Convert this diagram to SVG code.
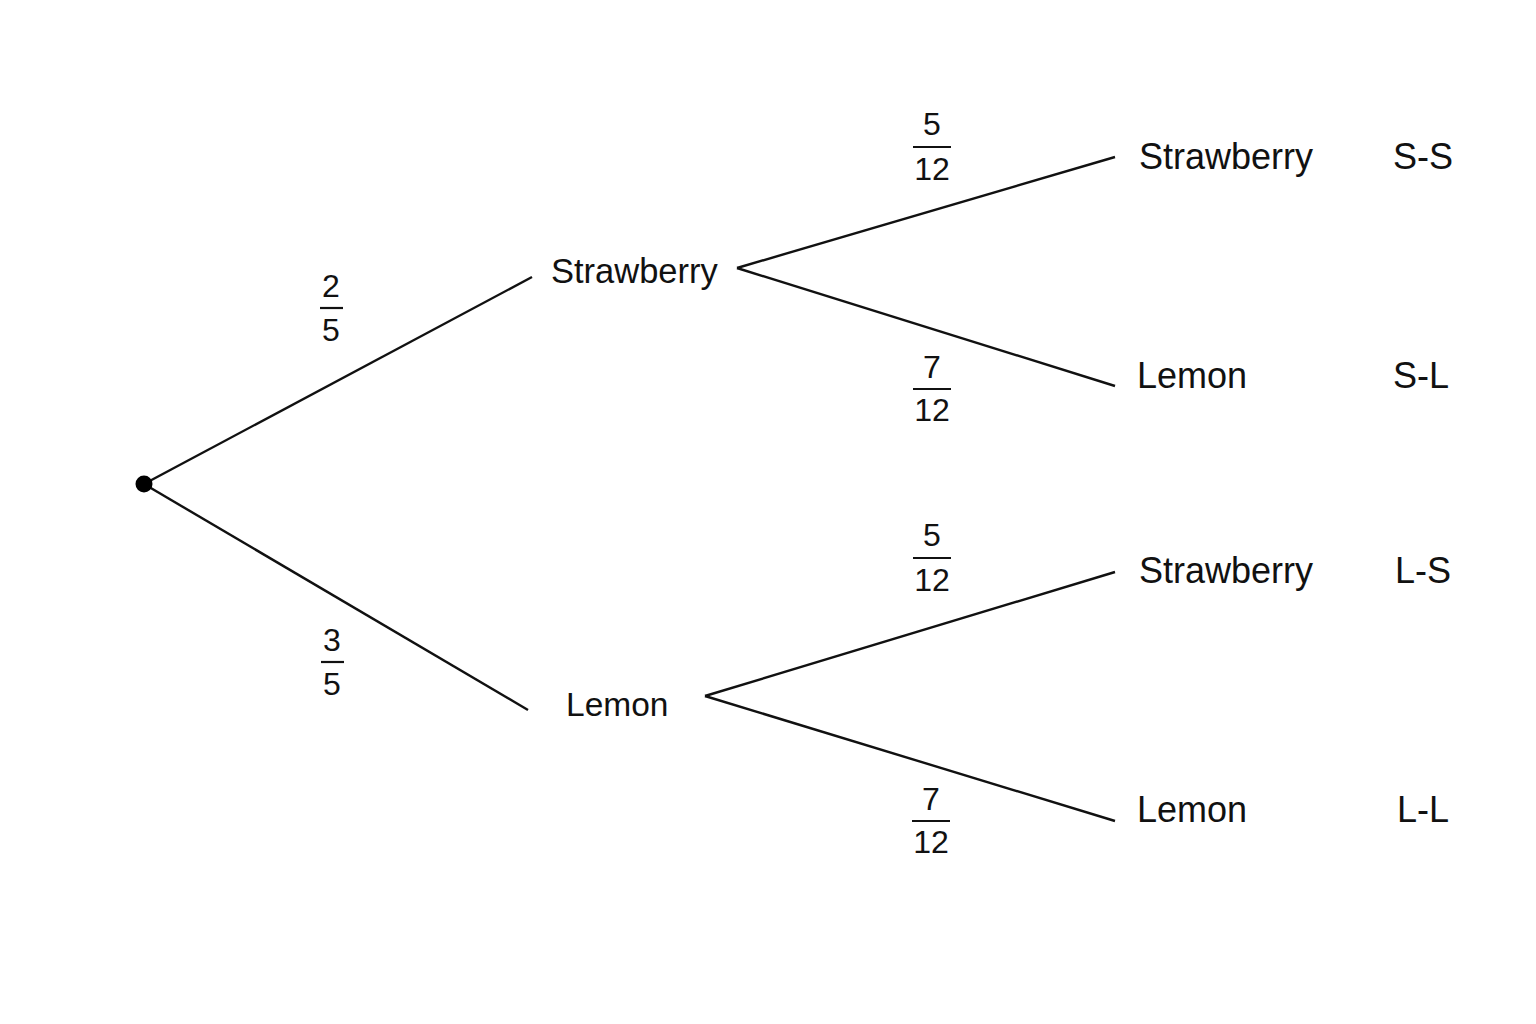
<svg xmlns="http://www.w3.org/2000/svg" width="1536" height="1024" viewBox="0 0 1536 1024">
<style>
.lbl{font-family:"Liberation Sans",Arial,sans-serif;font-size:36px;fill:#111}
.mid{font-size:34.5px}
.num{font-family:"Liberation Sans",Arial,sans-serif;font-size:32px;fill:#111;text-anchor:middle}
.edge{stroke:#111;stroke-width:2.4;fill:none}
.bar{stroke:#111;stroke-width:2.2}
</style>
<rect width="1536" height="1024" fill="#fff"/>
<g id="connectors">
<line class="edge" x1="144" y1="484" x2="532" y2="277"/>
<line class="edge" x1="144" y1="484" x2="528" y2="710"/>
<line class="edge" x1="737" y1="268" x2="1115" y2="157"/>
<line class="edge" x1="737" y1="268" x2="1115" y2="386"/>
<line class="edge" x1="705" y1="696" x2="1115" y2="572"/>
<line class="edge" x1="705" y1="696" x2="1115" y2="821"/>
</g>
<g id="root"><circle cx="144" cy="484" r="8.5" fill="#000"/></g>
<g id="n-strawberry"><text class="lbl mid" x="551" y="283">Strawberry</text></g>
<g id="n-lemon"><text class="lbl mid" x="566" y="716" style="font-size:33.5px">Lemon</text></g>
<g id="n-ss"><text class="lbl" x="1139" y="169">Strawberry</text><text class="lbl" x="1393" y="169">S-S</text></g>
<g id="n-sl"><text class="lbl" x="1137" y="388">Lemon</text><text class="lbl" x="1393" y="388">S-L</text></g>
<g id="n-ls"><text class="lbl" x="1139" y="583">Strawberry</text><text class="lbl" x="1395" y="583">L-S</text></g>
<g id="n-ll"><text class="lbl" x="1137" y="822">Lemon</text><text class="lbl" x="1397" y="822">L-L</text></g>
<g id="p-2-5"><text class="num" x="331" y="297">2</text><line class="bar" x1="320" y1="308" x2="343" y2="308"/><text class="num" x="331" y="341">5</text></g>
<g id="p-3-5"><text class="num" x="332" y="651">3</text><line class="bar" x1="321" y1="662" x2="344" y2="662"/><text class="num" x="332" y="695">5</text></g>
<g id="p-5-12a"><text class="num" x="932" y="135">5</text><line class="bar" x1="913" y1="147" x2="951" y2="147"/><text class="num" x="932" y="180">12</text></g>
<g id="p-7-12a"><text class="num" x="932" y="378">7</text><line class="bar" x1="913" y1="389" x2="951" y2="389"/><text class="num" x="932" y="421">12</text></g>
<g id="p-5-12b"><text class="num" x="932" y="546">5</text><line class="bar" x1="913" y1="558" x2="951" y2="558"/><text class="num" x="932" y="591">12</text></g>
<g id="p-7-12b"><text class="num" x="931" y="810">7</text><line class="bar" x1="912" y1="821" x2="950" y2="821"/><text class="num" x="931" y="853">12</text></g>
</svg>
